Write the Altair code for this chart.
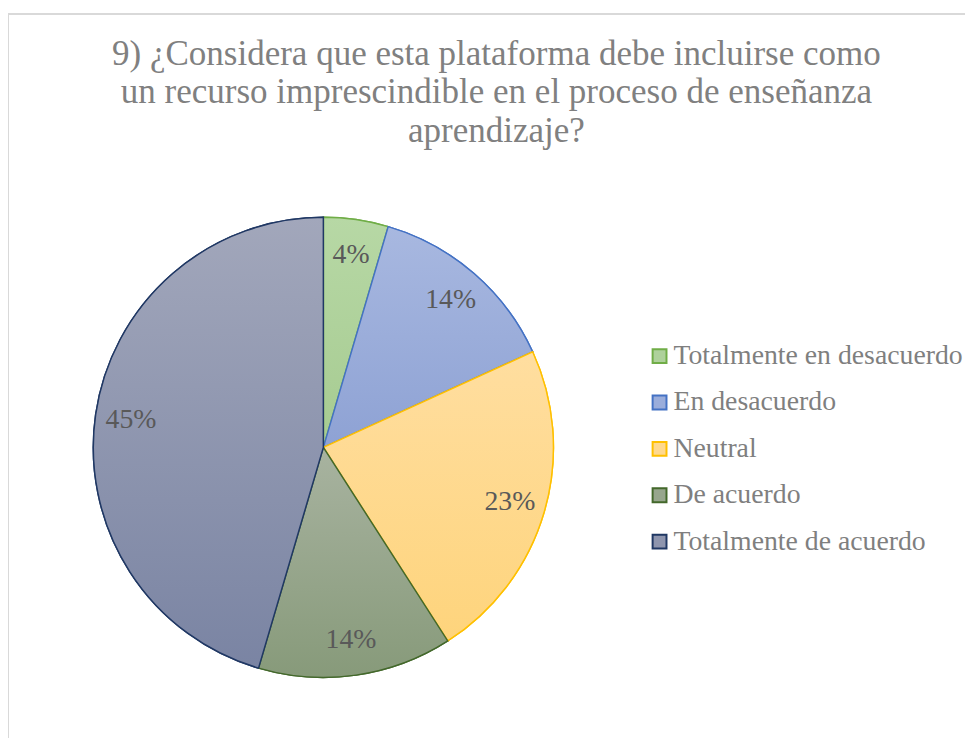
import altair as alt
import pandas as pd

categories = ["Totalmente en desacuerdo", "En desacuerdo", "Neutral", "De acuerdo", "Totalmente de acuerdo"]
values = [1, 3, 5, 3, 10]
labels = ["4%", "14%", "23%", "14%", "45%"]

fill_top = ["#b7d8a5", "#a8b8e0", "#ffdea0", "#a8b3a0", "#a2a7bb"]
fill_bottom = ["#a6cb91", "#8ea2d4", "#fed47c", "#879a7a", "#7a84a3"]
fill_mid = ["#aed19b", "#9aaddb", "#ffd98e", "#97a68d", "#8e95ae"]
stroke_cols = ["#70ad47", "#4472c4", "#ffc000", "#43682b", "#203864"]

df = pd.DataFrame({"cat": categories, "v": values, "lab": labels, "idx": list(range(len(categories)))})

W, H = 965, 730
CX, CY, R = 318, 437, 232


def grad(top, bottom):
    return {"gradient": "linear", "x1": 0, "y1": 0, "x2": 0, "y2": 1,
            "stops": [{"offset": 0, "color": top}, {"offset": 1, "color": bottom}]}


fill_conds = [{"test": f"datum.cat === '{c}'", "value": grad(t, b)}
              for c, t, b in zip(categories, fill_top, fill_bottom)]
stroke_conds = [{"test": f"datum.cat === '{c}'", "value": s}
                for c, s in zip(categories, stroke_cols)]

base = alt.Chart(df).encode(
    theta=alt.Theta("v:Q", stack=True),
    order=alt.Order("idx:Q", sort="ascending"),
    x=alt.value(CX),
    y=alt.value(CY),
)

legend = alt.Legend(
    title=None, orient="none", legendX=643, legendY=331,
    symbolType="square", symbolSize=196, symbolStrokeWidth=2,
    labelFont="Liberation Serif", labelFontSize=28, labelColor="#7f7f7f",
    rowPadding=18.75, labelOffset=0, labelLimit=400,
)

pie_legend = base.mark_arc(outerRadius=R, strokeWidth=1.5).encode(
    color=alt.Color("cat:N", sort=categories,
                    scale=alt.Scale(domain=categories, range=fill_mid), legend=legend),
    stroke=alt.Stroke("cat:N", sort=categories,
                      scale=alt.Scale(domain=categories, range=stroke_cols), legend=legend),
)

pie_grad = base.mark_arc(outerRadius=R, strokeWidth=1.5).encode(
    fill=alt.value(grad(fill_top[0], fill_bottom[0]), condition=fill_conds),
    stroke=alt.value(stroke_cols[0], condition=stroke_conds),
)

text = base.mark_text(radius=196, font="Liberation Serif", fontSize=28,
                      color="#595959", align="center", baseline="middle").encode(
    text="lab:N"
)

frame_df = pd.DataFrame({"k": [0]})
frame_left = alt.Chart(frame_df).mark_rule(color="#d9d9d9", strokeWidth=2).encode(
    x=alt.value(0), y=alt.value(0), y2=alt.value(H)
)
frame_top = alt.Chart(frame_df).mark_rule(color="#d9d9d9", strokeWidth=2).encode(
    x=alt.value(0), x2=alt.value(W), y=alt.value(0)
)

chart = alt.layer(frame_left, frame_top, pie_legend, pie_grad, text).properties(
    width=W, height=H,
    autosize=alt.AutoSizeParams(type="none"),
    padding={"left": 0, "top": 3, "right": 0, "bottom": 0},
    title=alt.TitleParams(
        text=["9) ¿Considera que esta plataforma debe incluirse como",
              "un recurso imprescindible en el proceso de enseñanza",
              "aprendizaje?"],
        font="Liberation Serif", fontSize=35.3, fontWeight="normal", color="#808080",
        lineHeight=38.5, anchor="middle", frame="group", dx=10,
        baseline="top", offset=-137,
    ),
).configure_view(stroke=None)

chart.save("out.html", embed_options={"renderer": "svg", "actions": False})
